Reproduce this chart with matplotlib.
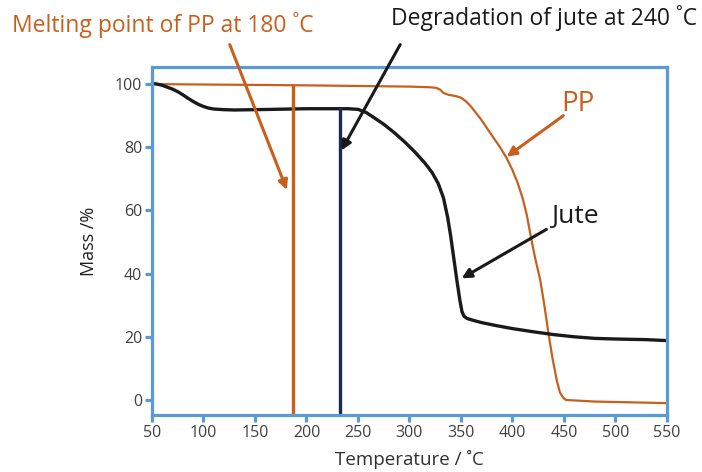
import matplotlib
matplotlib.use('Agg')
import matplotlib.pyplot as plt

plt.rcParams['font.family'] = ['Open Sans', 'DejaVu Sans']

# TGA curves (temperature in C, mass in %)
pp_T = [50, 200, 300, 320, 326, 330, 333, 338, 345, 350, 355, 360, 365, 370, 375, 381, 388, 394,
        400, 405, 410, 414, 418, 422, 427, 431, 435, 439, 443, 446, 449, 452, 480, 550]
pp_M = [100, 99.6, 99.2, 99.0, 98.8, 98.2, 97.2, 96.6, 96.2, 95.7, 94.5, 92.8, 90.7, 88.6, 86.2, 83.3, 80.0, 76.8,
        72.8, 68.8, 63.8, 58.5, 51.5, 45.0, 38.0, 30.0, 21.1, 13.0, 6.3, 2.5, 0.8, 0.0, -0.5, -1.0]
jute_T = [50, 55, 60, 65, 70, 75, 80, 85, 90, 95, 100, 105, 110, 120, 130, 150, 200, 240, 250, 258, 265,
          275, 285, 295, 305, 315, 322, 328, 333, 337, 340, 343, 346, 349, 351, 353, 356, 362, 370, 385,
          400, 420, 440, 460, 480, 500, 530, 550]
jute_M = [100.2, 100.0, 99.6, 99.0, 98.4, 97.6, 96.6, 95.5, 94.5, 93.6, 92.9, 92.4, 92.1, 91.9, 91.8, 91.9, 92.2, 92.2, 92.0, 91.0, 89.5,
          87.3, 84.7, 81.8, 78.6, 75.0, 72.0, 68.5, 64.0, 58.0, 52.0, 45.0, 38.0, 31.5, 28.0, 26.5, 25.8, 25.2, 24.5, 23.5,
          22.6, 21.6, 20.7, 20.0, 19.5, 19.3, 19.1, 18.8]
melt_T, melt_top = 187, 99.3
degr_T, degr_top = 232.5, 92.1
xticks = [50, 100, 150, 200, 250, 300, 350, 400, 450, 500, 550]
yticks = [0, 20, 40, 60, 80, 100]

ORANGE = '#C95F1C'
BLUE = '#5B9BD5'
NAVY = '#1B2A52'
INK = '#1A1A1A'

fig = plt.figure(figsize=(7.02, 4.72), dpi=100)
ax = fig.add_axes([0.2165, 0.1208, 0.7335, 0.7372])
ax.set_xlim(50, 550); ax.set_ylim(-4.75, 105.4)

ax.plot(pp_T, pp_M, color=ORANGE, lw=1.6, solid_joinstyle='round')
ax.plot(jute_T, jute_M, color=INK, lw=2.4, solid_capstyle='round', solid_joinstyle='round')
ax.plot([melt_T, melt_T], [-4.75, melt_top], color=ORANGE, lw=2.4)
ax.plot([degr_T, degr_T], [-4.75, degr_top], color=NAVY, lw=2.4)

for s in ax.spines.values():
    s.set_color(BLUE); s.set_linewidth(2.3)
ax.set_xticks(xticks); ax.set_yticks(yticks)
ax.tick_params(color=BLUE, width=2.3, length=5, labelsize=11.5, labelcolor='#404040', pad=2)

ax.set_xlabel('Temperature / ˚C', fontsize=13.5, color='#303030', labelpad=7)
ax.set_ylabel('Mass /%', fontsize=13, color='#202020', labelpad=12)

arw = lambda c: dict(arrowstyle='-|>', color=c, lw=2.2, mutation_scale=14, shrinkA=0, shrinkB=0)
ax.annotate('', xy=(181, 66.5), xytext=(125.5, 112.5), arrowprops=arw(ORANGE), annotation_clip=False)
ax.annotate('', xy=(234, 79), xytext=(291, 112.5), arrowprops=arw(INK), annotation_clip=False)
ax.annotate('', xy=(394.4, 77), xytext=(449.4, 90), arrowprops=arw(ORANGE), annotation_clip=False)
ax.annotate('', xy=(350.7, 38.5), xytext=(433, 54), arrowprops=arw(INK), annotation_clip=False)

fig.text(12/702, 1-25/472, 'Melting point of PP at 180 ˚C', color=ORANGE, fontsize=16.5, va='center', ha='left')
fig.text(697/702, 1-18/472, 'Degradation of jute at 240 ˚C', color=INK, fontsize=16.5, va='center', ha='right')
fig.text(561/702, 1-104/472, 'PP', color=ORANGE, fontsize=20, va='center', ha='left')
fig.text(551/702, 1-216/472, 'Jute', color=INK, fontsize=19, va='center', ha='left')

fig.savefig('out.png', dpi=100)
